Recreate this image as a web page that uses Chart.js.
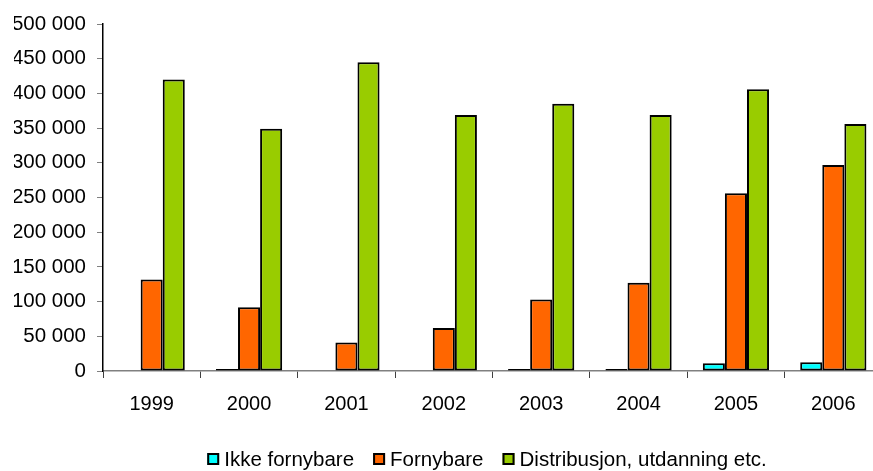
<!DOCTYPE html>
<html>
<head>
<meta charset="utf-8">
<script src="https://cdn.jsdelivr.net/npm/chart.js@4.4.1/dist/chart.umd.min.js"></script>
<style>
    html, body { margin: 0; padding: 0; background: #fff; overflow: hidden; }
    #wrap { position: relative; width: 890px; height: 471px; }
</style>
</head>
<body>
<div id="wrap"><canvas id="chart"></canvas></div>
<script>
const years = ['1999', '2000', '2001', '2002', '2003', '2004', '2005', '2006'];
const ikkeFornybare = [0, 3000, 0, 0, 3000, 3000, 11000, 12500];
const fornybare = [132000, 92000, 41000, 62000, 103000, 127000, 256000, 297000];
const distribusjon = [420000, 349000, 445000, 369000, 385000, 369000, 406000, 356000];
const seriesNames = ['Ikke fornybare', 'Fornybare', 'Distribusjon, utdanning etc.'];

const fontFamily = '"Liberation Sans", Arial, sans-serif';

function spaced(v) {
    return String(v).replace(/\B(?=(\d{3})+(?!\d))/g, ' ');
}

// legend drawn by hand so the box/text spacing looks like the Excel one
const bottomLegend = {
    id: 'bottomLegend',
    afterDraw(chart) {
        const ctx = chart.ctx;
        const sets = chart.data.datasets;
        const box = 12, textGap = 5, itemGap = 19;
        ctx.save();
        ctx.font = '20.5px ' + fontFamily;
        ctx.textBaseline = 'middle';
        ctx.textAlign = 'left';
        const widths = sets.map(ds => box + textGap + ctx.measureText(ds.label).width);
        const total = widths.reduce((a, b) => a + b, 0) + itemGap * (sets.length - 1);
        let x = 487 - total / 2;
        const y = 459;
        sets.forEach((ds, i) => {
            ctx.fillStyle = ds.backgroundColor;
            ctx.fillRect(x, y - 6, box, box);
            ctx.lineWidth = 2;
            ctx.strokeStyle = '#000';
            ctx.strokeRect(x + 1, y - 5, box - 2, box - 2);
            ctx.fillStyle = '#000';
            ctx.fillText(ds.label, x + box + textGap, y + 1);
            x += widths[i] + itemGap;
        });
        ctx.restore();
    }
};

document.addEventListener('DOMContentLoaded', () => {
    const ctx = document.getElementById('chart').getContext('2d');

    const barStyle = {
        borderColor: '#000000',
        borderWidth: 2,
        borderSkipped: false,
        categoryPercentage: 0.68,
        barPercentage: 1.0
    };

    new Chart(ctx, {
        type: 'bar',
        data: {
            labels: years,
            datasets: [
                Object.assign({ label: seriesNames[0], data: ikkeFornybare, backgroundColor: '#00FFFF' }, barStyle),
                Object.assign({ label: seriesNames[1], data: fornybare, backgroundColor: '#FF6600' }, barStyle),
                Object.assign({ label: seriesNames[2], data: distribusjon, backgroundColor: '#99CC00' }, barStyle)
            ]
        },
        options: {
            responsive: true,
            maintainAspectRatio: false,
            animation: false,
            layout: {
                padding: { left: 14, right: 8, top: 24, bottom: 50 }
            },
            plugins: {
                tooltip: { enabled: false },
                legend: { display: false }
            },
            scales: {
                x: {
                    afterFit: scale => { scale.height = 50; },
                    grid: {
                        display: true,
                        drawOnChartArea: false,
                        drawTicks: true,
                        tickLength: 7,
                        color: '#404040'
                    },
                    border: { display: true, color: '#808080', width: 1.5 },
                    ticks: {
                        color: '#000',
                        font: { family: fontFamily, size: 20 },
                        padding: 14
                    }
                },
                y: {
                    min: 0,
                    max: 500000,
                    afterFit: scale => { scale.width = 89; },
                    grid: {
                        display: true,
                        drawOnChartArea: false,
                        drawTicks: true,
                        tickLength: 6,
                        color: '#808080'
                    },
                    border: { display: true, color: '#000', width: 1.5 },
                    ticks: {
                        stepSize: 50000,
                        color: '#000',
                        font: { family: fontFamily, size: 20.5 },
                        padding: 11,
                        callback: v => spaced(v)
                    }
                }
            }
        },
        plugins: [bottomLegend]
    });
});
</script>
</body>
</html>
